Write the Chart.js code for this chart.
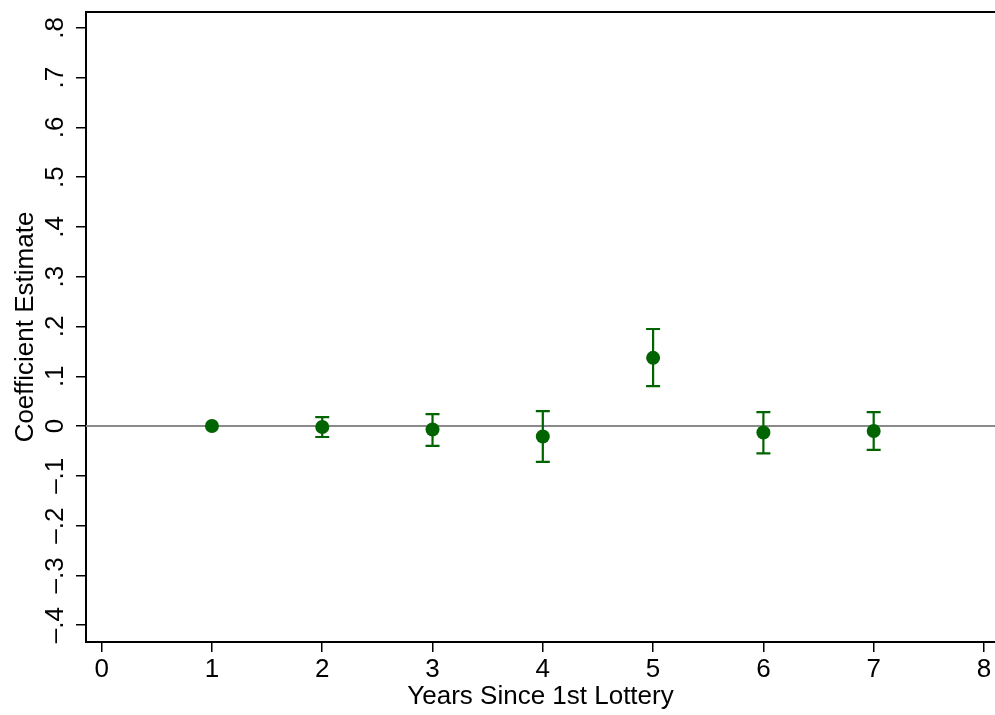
<!DOCTYPE html>
<html>
<head>
<meta charset="utf-8">
<script src="https://cdn.jsdelivr.net/npm/chart.js@4.4.1/dist/chart.umd.min.js"></script>
<style>
  html, body { margin: 0; padding: 0; background: #fff; }
</style>
</head>
<body>
<canvas id="chart" width="995" height="715"></canvas>
<script>
// --- DATA ---
const years = [1, 2, 3, 4, 5, 6, 7];
const coef = [0, -0.002, -0.007, -0.021, 0.137, -0.013, -0.010];
const ciLow = [0, -0.022, -0.040, -0.072, 0.080, -0.055, -0.048];
const ciHigh = [0, 0.018, 0.024, 0.030, 0.195, 0.028, 0.028];
const xTicks = [0, 1, 2, 3, 4, 5, 6, 7, 8];
const yTicks = [-0.4, -0.3, -0.2, -0.1, 0, 0.1, 0.2, 0.3, 0.4, 0.5, 0.6, 0.7, 0.8];

const GREEN = '#006400';
const FONT = "'Liberation Sans', Arial, Helvetica, sans-serif";

// Stata-like labels: drop the leading zero, dash for negatives
function stataLabel(v) {
    if (Math.abs(v) < 1e-9) return '0';
    const s = Math.abs(v).toFixed(1).replace(/^0/, '');
    return (v < 0 ? '\u2013' : '') + s;
}

// --- PLUGIN: zero line, error bars, frame and text ---
const stataPlugin = {
    id: 'stata',
    beforeDatasetsDraw(chart) {
        const { ctx, chartArea, scales: { x, y } } = chart;
        ctx.save();
        // reference line at 0
        const y0 = y.getPixelForValue(0);
        ctx.strokeStyle = '#8a8a8a';
        ctx.lineWidth = 2;
        ctx.beginPath();
        ctx.moveTo(chartArea.left, y0);
        ctx.lineTo(chartArea.right, y0);
        ctx.stroke();

        // confidence intervals
        ctx.strokeStyle = GREEN;
        ctx.lineWidth = 2.2;
        years.forEach((yr, i) => {
            if (ciHigh[i] === ciLow[i]) return;
            const px = x.getPixelForValue(yr);
            const lo = y.getPixelForValue(ciLow[i]);
            const hi = y.getPixelForValue(ciHigh[i]);
            const cap = 7;
            ctx.beginPath();
            ctx.moveTo(px, lo); ctx.lineTo(px, hi);
            ctx.moveTo(px - cap, lo); ctx.lineTo(px + cap, lo);
            ctx.moveTo(px - cap, hi); ctx.lineTo(px + cap, hi);
            ctx.stroke();
        });
        ctx.restore();
    },
    afterDraw(chart) {
        const { ctx, chartArea, scales: { x, y } } = chart;
        ctx.save();
        // top frame line
        ctx.strokeStyle = '#000';
        ctx.lineWidth = 2;
        ctx.beginPath();
        ctx.moveTo(chartArea.left - 1, chartArea.top);
        ctx.lineTo(chartArea.right, chartArea.top);
        ctx.stroke();

        ctx.fillStyle = '#000';
        ctx.font = '26px ' + FONT;
        ctx.textAlign = 'center';
        ctx.textBaseline = 'alphabetic';

        // x tick labels
        xTicks.forEach(v => {
            ctx.fillText(String(v), x.getPixelForValue(v), 677);
        });

        // rotated y tick labels
        yTicks.forEach(v => {
            ctx.save();
            ctx.translate(63, y.getPixelForValue(v));
            ctx.rotate(-Math.PI / 2);
            ctx.fillText(stataLabel(v), 0, 0);
            ctx.restore();
        });

        // y title
        ctx.save();
        ctx.translate(33, (chartArea.top + chartArea.bottom) / 2);
        ctx.rotate(-Math.PI / 2);
        ctx.fillText('Coefficient Estimate', 0, 0);
        ctx.restore();

        // x title
        ctx.fillText('Years Since 1st Lottery', (chartArea.left + chartArea.right) / 2, 704);
        ctx.restore();
    }
};

new Chart(document.getElementById('chart'), {
    type: 'scatter',
    data: {
        datasets: [{
            data: years.map((yr, i) => ({ x: yr, y: coef[i] })),
            pointRadius: 7,
            pointHoverRadius: 7,
            pointBackgroundColor: GREEN,
            pointBorderColor: GREEN,
            pointBorderWidth: 0
        }]
    },
    options: {
        responsive: false,
        animation: false,
        devicePixelRatio: 1,
        layout: { autoPadding: false, padding: { top: 12, right: 0, left: 0, bottom: 0 } },
        plugins: { legend: { display: false }, tooltip: { enabled: false } },
        scales: {
            x: {
                type: 'linear',
                min: -0.142,
                max: 8.1,
                afterBuildTicks: s => { s.ticks = xTicks.map(v => ({ value: v })); },
                afterFit: s => { s.height = 73; },
                ticks: { display: false },
                grid: { drawOnChartArea: false, drawTicks: true, tickLength: 10, color: '#000', lineWidth: 1.5 },
                border: { color: '#000', width: 2 }
            },
            y: {
                min: -0.434,
                max: 0.832,
                afterBuildTicks: s => { s.ticks = yTicks.map(v => ({ value: v })); },
                afterFit: s => { s.width = 86; },
                ticks: { display: false },
                grid: { drawOnChartArea: false, drawTicks: true, tickLength: 10, color: '#000', lineWidth: 1.5 },
                border: { color: '#000', width: 2 }
            }
        }
    },
    plugins: [stataPlugin]
});
</script>
</body>
</html>
